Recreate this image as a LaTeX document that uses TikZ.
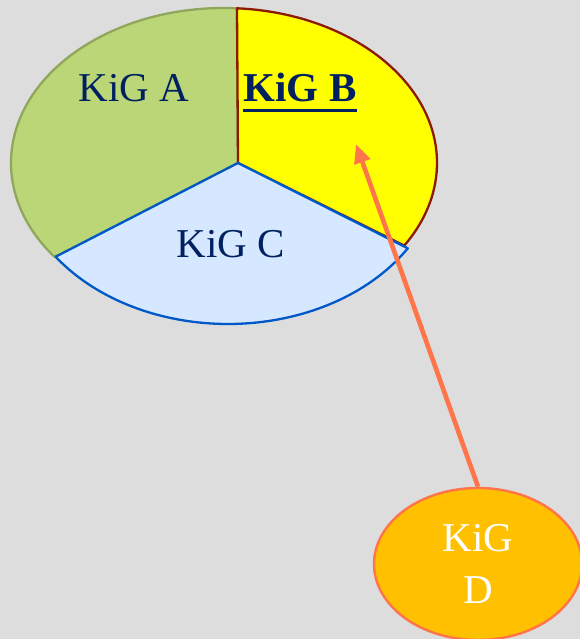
\documentclass[tikz,border=0pt]{standalone}
\usepackage{fontspec}
\setmainfont{Liberation Serif}
\usetikzlibrary{shapes.geometric,arrows.meta}
\definecolor{bg}{HTML}{DDDDDD}
\definecolor{gfill}{HTML}{BBD676}
\definecolor{gline}{HTML}{8FA65C}
\definecolor{yfill}{HTML}{FFFF00}
\definecolor{yline}{HTML}{8B1A00}
\definecolor{bfill}{HTML}{D6E8FF}
\definecolor{bline}{HTML}{0058C8}
\definecolor{navy}{HTML}{002060}
\definecolor{coral}{HTML}{FF7448}
\definecolor{dfill}{HTML}{FFC000}
\tikzset{
  lbl/.style={font=\fontsize{41}{49}\selectfont, text=navy, anchor=base, inner sep=0pt},
  sector/.style={line width=2.3pt, line join=round},
  kigd/.style={ellipse, draw=coral, fill=dfill, line width=2.4pt, minimum width=208pt, minimum height=152pt, inner sep=0pt, text=white, align=center, font=\fontsize{41}{52}\selectfont},
  pointer/.style={draw=coral, line width=4.6pt, -{Triangle[length=19pt,width=16pt]}}
}
\begin{document}
\begin{tikzpicture}[x=1pt,y=1pt]
\fill[bg] (0,0) rectangle (580,639);
\useasboundingbox (0,0) rectangle (580,639);
\coordinate (P) at (238,476);
\coordinate (T) at ([shift={(224pt,476pt)}]86.5:213pt and 155pt);
\coordinate (L) at ([shift={(228pt,476pt)}]215.6:212pt and 161pt);
% green sector
\draw[sector, draw=gline, fill=gfill] (P) -- (T) arc[start angle=86.5, end angle=217.4, x radius=213pt, y radius=155pt] -- cycle;
% yellow sector
\draw[sector, draw=yline, fill=yfill] (P) -- (T) arc[start angle=86.5, end angle=-32.2, x radius=213pt, y radius=155pt] -- cycle;
% blue sector
\draw[sector, draw=bline, fill=bfill] (P) -- (L) arc[start angle=215.6, end angle=328, x radius=212pt, y radius=161pt] -- cycle;
% labels
\node[lbl] (kA) at (134,537) {KiG A};
\node[lbl, font=\fontsize{41}{49}\selectfont\bfseries] (kB) at (300,537) {KiG B};
\draw[navy, line width=3.6pt] ([yshift=-8.5pt]kB.base west) -- ([yshift=-8.5pt]kB.base east);
\node[lbl] (kC) at (231,381) {KiG C};
% KiG D
\node[kigd] (D) at (478,75) {KiG\\D};
\coordinate (tip) at (356,495);
\draw[pointer] (D.north) -- (tip);
\end{tikzpicture}
\end{document}
